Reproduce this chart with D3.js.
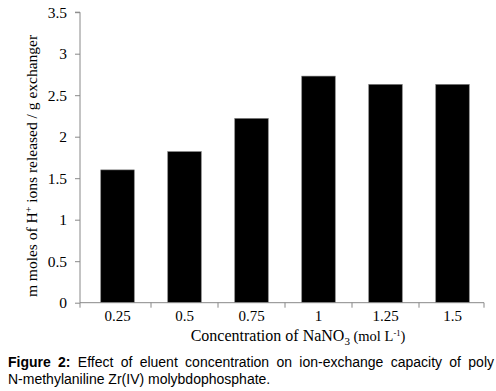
<!DOCTYPE html>
<html><head><meta charset="utf-8">
<script src="https://cdn.jsdelivr.net/npm/d3@7"></script>
<style>body{margin:0;background:#fff}svg{display:block}</style>
</head><body>
<svg id="c" width="496" height="391"></svg>
<script>
const categories = ["0.25","0.5","0.75","1","1.25","1.5"];
const values = [1.6, 1.82, 2.22, 2.73, 2.63, 2.63];
const yTicks = [0,0.5,1,1.5,2,2.5,3,3.5];
const yTickLabels = ["0","0.5","1","1.5","2","2.5","3","3.5"];

const svg = d3.select("#c");
const serif = "'Liberation Serif','Times New Roman',serif";
const x = d3.scaleBand().domain(categories).range([84,486]).paddingInner(0.5).paddingOuter(0.25);
const y = d3.scaleLinear().domain([0,3.5]).range([302.7,12.2]);
const x0 = 80, x1 = 484;
const step = x.step();

// bars
svg.selectAll("rect.bar").data(values).enter().append("rect")
  .attr("class","bar")
  .attr("x",(d,i)=>x(categories[i]))
  .attr("width",x.bandwidth())
  .attr("y",d=>y(d))
  .attr("height",d=>y(0)-y(d))
  .attr("fill","#000").attr("stroke","#777").attr("stroke-width",0.6);

// y axis
const yAxis = d3.axisLeft(y).tickValues(yTicks).tickSize(5).tickPadding(8)
  .tickFormat((d,i)=>yTickLabels[i]);
const gy = svg.append("g").attr("transform",`translate(${x0},0)`).call(yAxis);
gy.select(".domain").attr("stroke","#888").attr("d",`M-5,${y(3.5)}H0V${y(0)}`);
gy.selectAll(".tick line").attr("stroke","#888");
gy.selectAll("text").attr("font-family",serif).attr("font-size",15.5).attr("fill","#000");

// x axis
const gx = svg.append("g").attr("transform",`translate(0,${y(0)})`);
gx.append("line").attr("x1",x0).attr("x2",x1).attr("y1",0).attr("y2",0).attr("stroke","#888");
const tickX = i => i===0 ? x0 : (i===categories.length ? x1 : x(categories[i]) - step*0.25);
gx.selectAll("line.tk").data(d3.range(categories.length+1)).enter().append("line")
  .attr("class","tk")
  .attr("x1",tickX).attr("x2",tickX)
  .attr("y1",0).attr("y2",5).attr("stroke","#888");
gx.selectAll("text").data(categories).enter().append("text")
  .attr("x",d=>x(d)+x.bandwidth()/2).attr("y",18)
  .attr("text-anchor","middle").attr("font-family",serif).attr("font-size",15).text(d=>d);

// x title
const xt = svg.append("text").attr("x",298).attr("y",341).attr("text-anchor","middle")
  .attr("font-family",serif).attr("font-size",16);
xt.append("tspan").text("Concentration of NaNO");
xt.append("tspan").attr("dy",4).attr("font-size",11).text("3");
xt.append("tspan").attr("dy",-4).attr("font-size",14.5).text(" (mol L");
xt.append("tspan").attr("dy",-5).attr("font-size",8.5).text("-1");
xt.append("tspan").attr("dy",5).attr("font-size",14.5).text(")");

// y title
const yt = svg.append("text").attr("transform","translate(37,166) rotate(-90)")
  .attr("text-anchor","middle").attr("font-family",serif).attr("font-size",15.5);
yt.append("tspan").text("m moles of H");
yt.append("tspan").attr("dy",-5).attr("font-size",10).text("+");
yt.append("tspan").attr("dy",5).text(" ions released / g exchanger");

// caption
const sans = "'Liberation Sans',Arial,sans-serif";
const line1 = [["Figure",true],["2:",true],["Effect",false],["of",false],["eluent",false],["concentration",false],["on",false],["ion-exchange",false],["capacity",false],["of",false],["poly",false]];
const widths = line1.map(([w,b])=>{
  const t = svg.append("text").attr("font-family",sans).attr("font-size",14).attr("font-weight",b?"bold":"normal").text(w);
  const l = t.node().getComputedTextLength(); t.remove(); return l;
});
const L = 8, R = 494;
const gap = (R-L-d3.sum(widths))/(line1.length-1);
let cx = L;
line1.forEach(([w,b],i)=>{
  svg.append("text").attr("x",cx).attr("y",367).attr("font-family",sans).attr("font-size",14)
    .attr("font-weight",b?"bold":"normal").attr("fill","#000").text(w);
  cx += widths[i]+gap;
});
svg.append("text").attr("x",L).attr("y",384).attr("font-family",sans).attr("font-size",14)
  .text("N-methylaniline Zr(IV) molybdophosphate.");
</script>
</body></html>
